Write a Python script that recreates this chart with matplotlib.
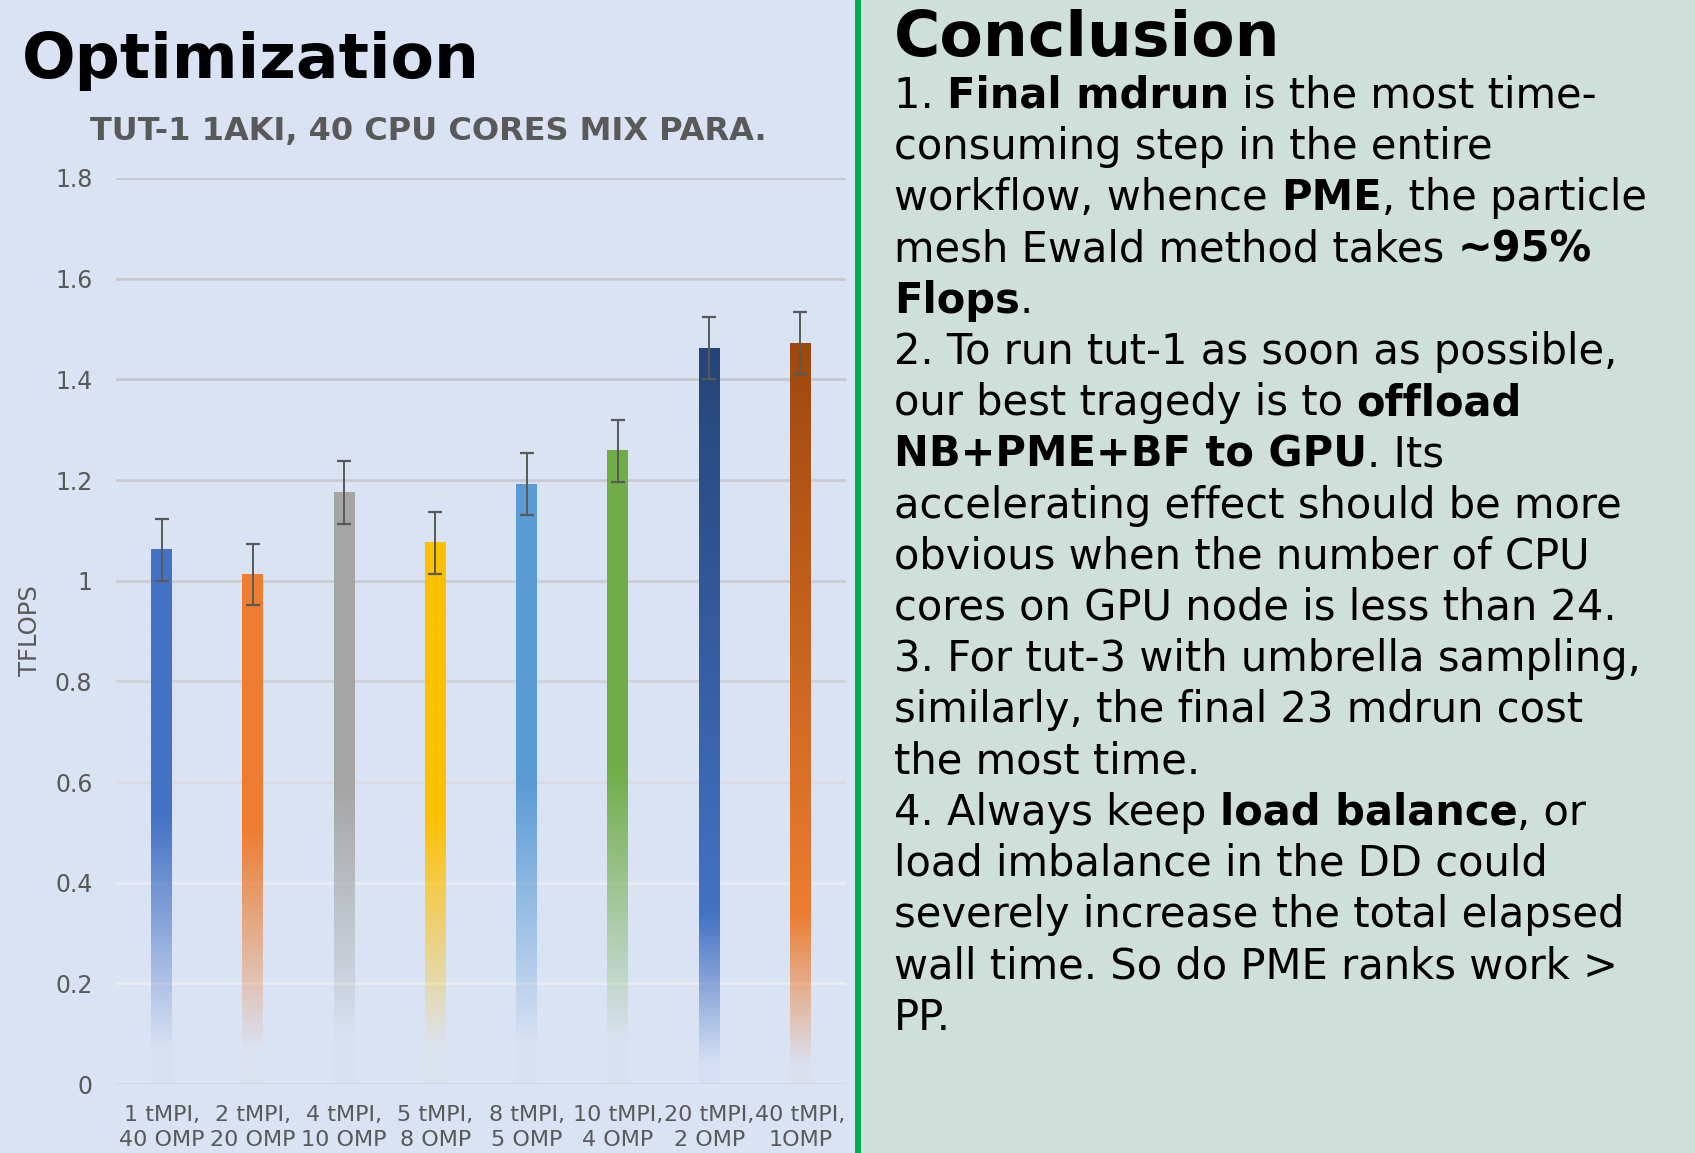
import numpy as np
import matplotlib
matplotlib.use("Agg")
import matplotlib.pyplot as plt
from matplotlib.patches import Rectangle
from matplotlib.colors import to_rgb

# ---- data ----
labels = ["1 tMPI,\n40 OMP", "2 tMPI,\n20 OMP", "4 tMPI,\n10 OMP", "5 tMPI,\n8 OMP",
          "8 tMPI,\n5 OMP", "10 tMPI,\n4 OMP", "20 tMPI,\n2 OMP", "40 tMPI,\n1OMP"]
tflops = [1.061, 1.012, 1.175, 1.075, 1.192, 1.258, 1.462, 1.472]
errors = [0.061, 0.061, 0.062, 0.062, 0.062, 0.062, 0.062, 0.062]
yticks = [0, 0.2, 0.4, 0.6, 0.8, 1.0, 1.2, 1.4, 1.6, 1.8]

bar_colors = ["#4472C4", "#ED7D31", "#A5A5A5", "#FFC000", "#5B9BD5", "#70AD47", "#4472C4", "#ED7D31"]
top_colors = ["#4472C4", "#ED7D31", "#A5A5A5", "#FFC000", "#5B9BD5", "#70AD47", "#264478", "#9E480E"]

W, H = 1695, 1153
LEFT_BG = "#DAE3F3"
RIGHT_BG = "#CFDFDA"
GRAY = "#595959"

fig = plt.figure(figsize=(W / 100, H / 100), dpi=100)
fig.patch.set_facecolor(LEFT_BG)
fig.add_artist(Rectangle((858 / W, 0), 1 - 858 / W, 1, transform=fig.transFigure,
                         facecolor=RIGHT_BG, edgecolor="none", zorder=0))
fig.add_artist(Rectangle((855 / W, 0), 6 / W, 1, transform=fig.transFigure,
                         facecolor="#00B050", edgecolor="none", zorder=1))


def fx(px):
    return px / W


def fy(py):
    return 1 - py / H


# ---- chart ----
ax = fig.add_axes([fx(116), fy(1084), (846 - 116) / W, (1084 - 178) / H])
ax.set_facecolor("none")
x = np.arange(len(labels))

grid_cols = ["#D3D6DE", "#E9ECF3", "#E9ECF3", "#D8DBE2", "#D0D2D9", "#CACCD2",
             "#C8CACF", "#C6C8CD", "#C6C8CD", "#C6C8CD"]
for v, c in zip(yticks, grid_cols):
    ax.axhline(v, color=c, lw=2.0, zorder=1)

bars = ax.bar(x, tflops, width=0.23, color="none", zorder=2)

for i, b in enumerate(bars):
    x0, w, h = b.get_x(), b.get_width(), b.get_height()
    n = 300
    f = np.linspace(0, 1, n)
    base = np.array(to_rgb(bar_colors[i]))
    top = np.array(to_rgb(top_colors[i]))
    img = np.zeros((n, 1, 4))
    if i < 6:
        rgb = np.tile(base, (n, 1))
        alpha = np.clip((f - 0.06) / 0.44, 0.02, 1.0)
    else:
        stop = 0.23
        t = np.clip((f - stop) / (1 - stop), 0, 1)[:, None]
        rgb = base * (1 - t) + top * t
        alpha = np.clip((f - 0.02) / (stop - 0.02), 0.03, 1.0)
    img[:, 0, :3] = rgb
    img[:, 0, 3] = alpha
    ax.imshow(img, extent=[x0, x0 + w, 0, h], origin="lower", aspect="auto",
              interpolation="bilinear", zorder=2)

ax.errorbar(x, tflops, yerr=errors, fmt="none", ecolor=GRAY, elinewidth=1.4,
            capsize=5, capthick=1.6, zorder=3)

ax.set_xlim(-0.5, len(labels) - 0.5)
ax.set_ylim(0, 1.8)
ax.set_yticks(yticks)
ax.set_yticklabels([f"{v:g}" for v in yticks])
ax.set_xticks(x)
ax.set_xticklabels(labels, linespacing=1.3)
ax.tick_params(axis="y", length=0, pad=17, labelsize=17, labelcolor=GRAY)
ax.tick_params(axis="x", length=0, pad=15, labelsize=16, labelcolor=GRAY)
for s in ax.spines.values():
    s.set_visible(False)
ax.set_ylabel("TFLOPS", fontsize=17.5, color=GRAY)
ax.yaxis.set_label_coords(-0.101, 0.5)

fig.text(fx(22), fy(78), "Optimization", fontsize=45.5, fontweight="bold", va="baseline")
fig.text(fx(428), fy(140), "TUT-1 1AKI, 40 CPU CORES MIX PARA.", fontsize=23,
         fontweight="bold", color=GRAY, ha="center", va="baseline")
fig.text(fx(894), fy(56), "Conclusion", fontsize=45.5, fontweight="bold", va="baseline")

# ---- rich text on the right ----
lines = [
    [("1. ", 0), ("Final mdrun", 1), (" is the most time-", 0)],
    [("consuming step in the entire", 0)],
    [("workflow, whence ", 0), ("PME", 1), (", the particle", 0)],
    [("mesh Ewald method takes ", 0), ("~95%", 1)],
    [("Flops", 1), (".", 0)],
    [("2. To run tut-1 as soon as possible,", 0)],
    [("our best tragedy is to ", 0), ("offload", 1)],
    [("NB+PME+BF to GPU", 1), (". Its", 0)],
    [("accelerating effect should be more", 0)],
    [("obvious when the number of CPU", 0)],
    [("cores on GPU node is less than 24.", 0)],
    [("3. For tut-3 with umbrella sampling,", 0)],
    [("similarly, the final 23 mdrun cost", 0)],
    [("the most time.", 0)],
    [("4. Always keep ", 0), ("load balance", 1), (", or", 0)],
    [("load imbalance in the DD could", 0)],
    [("severely increase the total elapsed", 0)],
    [("wall time. So do PME ranks work >", 0)],
    [("PP.", 0)],
]

renderer = fig.canvas.get_renderer()
body_size = 30


def seg_width(txt, weight):
    a = fig.text(0, 0, "|" + txt + "|", fontsize=body_size, fontweight=weight)
    b = fig.text(0, 0, "||", fontsize=body_size, fontweight=weight)
    w = a.get_window_extent(renderer).width - b.get_window_extent(renderer).width
    a.remove()
    b.remove()
    return w


y0, dy = 108, 51.2
for k, segs in enumerate(lines):
    cur = 894
    yy = y0 + k * dy
    for txt, bold in segs:
        weight = "bold" if bold else "normal"
        fig.text(fx(cur), fy(yy), txt, fontsize=body_size, fontweight=weight, va="baseline")
        cur += seg_width(txt, weight)

fig.savefig("out.png", dpi=100, facecolor=fig.get_facecolor())
